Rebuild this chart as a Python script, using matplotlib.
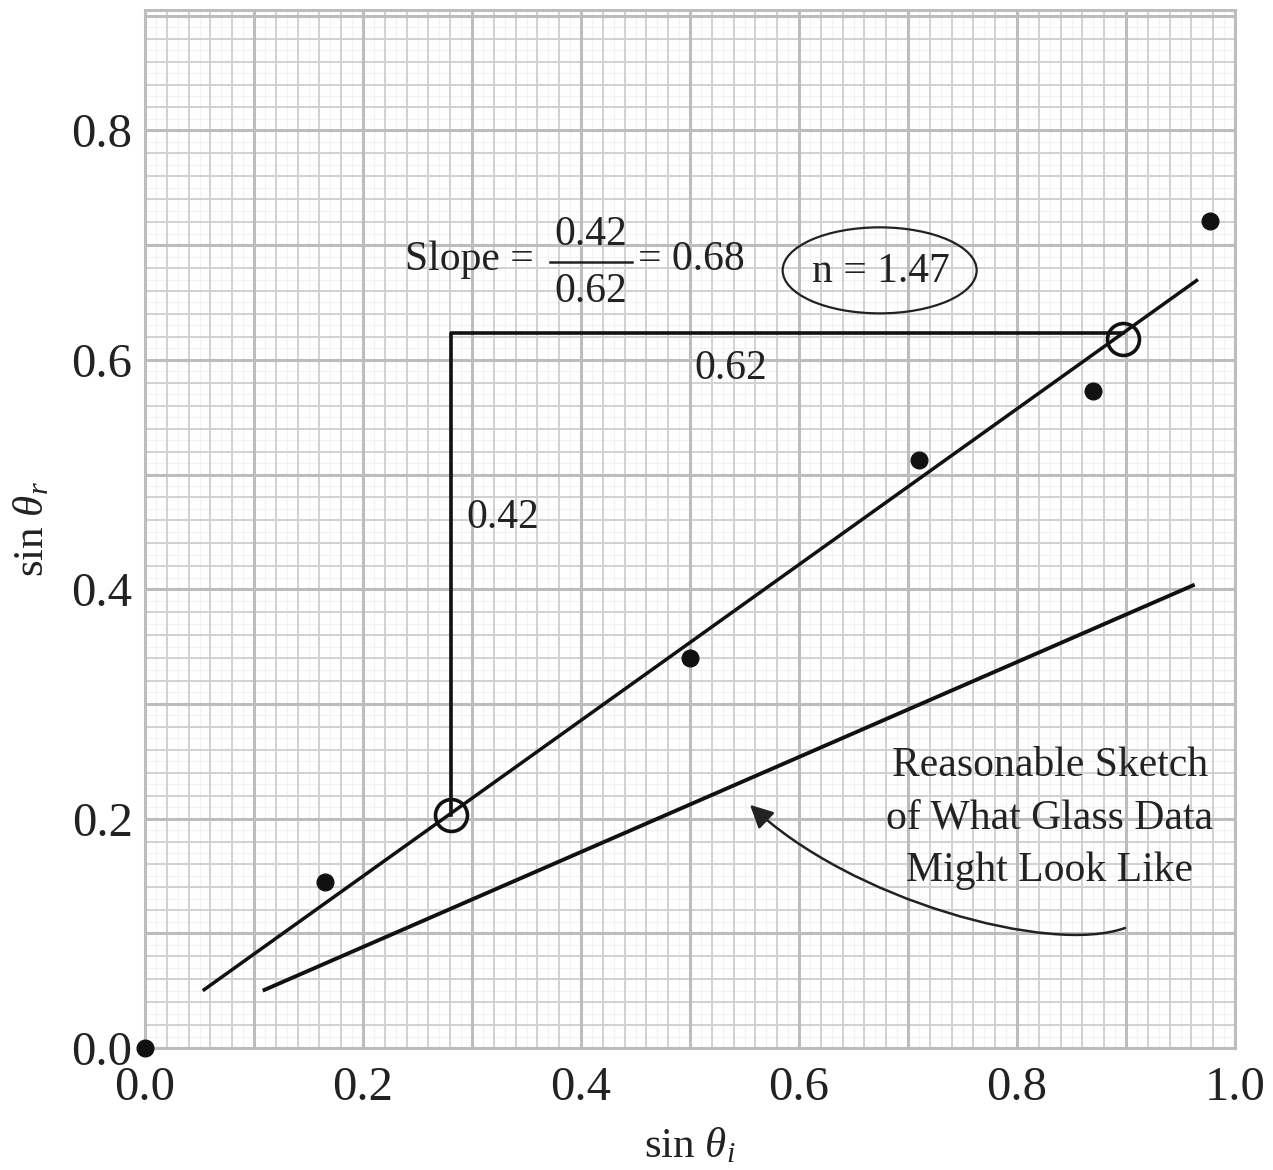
import matplotlib
matplotlib.use("Agg")
import matplotlib.pyplot as plt
import numpy as np
from matplotlib.patches import Ellipse, FancyArrowPatch
from matplotlib.path import Path

# ---- data ----
data_x = [0.0, 0.165, 0.50, 0.71, 0.87, 0.977]
data_y = [0.0, 0.145, 0.34, 0.513, 0.573, 0.721]

fit_x = [0.053, 0.966]
fit_y = [0.050, 0.670]

glass_x = [0.108, 0.963]
glass_y = [0.050, 0.404]

slope_pts_x = [0.281, 0.897]
slope_pts_y = [0.203, 0.618]

tri_x = [0.281, 0.281, 0.897]
tri_y = [0.203, 0.623, 0.623]

xticks = [0.0, 0.2, 0.4, 0.6, 0.8, 1.0]
yticks = [0.0, 0.2, 0.4, 0.6, 0.8]
xtick_labels = ["0.0", "0.2", "0.4", "0.6", "0.8", "1.0"]
ytick_labels = ["0.0", "0.2", "0.4", "0.6", "0.8"]

SERIF = ["Liberation Serif", "DejaVu Serif"]
plt.rcParams["font.family"] = SERIF
plt.rcParams["mathtext.fontset"] = "custom"
plt.rcParams["mathtext.it"] = "Liberation Serif:italic"
plt.rcParams["mathtext.rm"] = "Liberation Serif"

TXT = "#222222"
FS = 30

fig = plt.figure(figsize=(12.73, 11.70), dpi=100)
ax = fig.add_axes([145/1273, 1 - 1048/1170, 1090/1273, 1038/1170])
XMAX, YMAX = 1.0, 0.905
ax.set_xlim(0, XMAX)
ax.set_ylim(0, YMAX)

# graph-paper grid
def grid_lines(step, color, lw):
    for v in np.arange(0, XMAX + 1e-9, step):
        ax.axvline(v, color=color, lw=lw, zorder=0)
    for v in np.arange(0, YMAX + 1e-9, step):
        ax.axhline(v, color=color, lw=lw, zorder=0)

grid_lines(0.01, "#f2f2f2", 0.8)
grid_lines(0.02, "#d2d2d2", 1.4)
grid_lines(0.1, "#bdbdbd", 2.2)

for s in ax.spines.values():
    s.set_color("#bdbdbd")
    s.set_linewidth(2.2)

ax.set_xticks(xticks)
ax.set_xticklabels(xtick_labels)
ax.set_yticks(yticks)
ax.set_yticklabels(ytick_labels)
ax.tick_params(length=0, labelsize=35, colors=TXT)
ax.tick_params(axis="x", pad=13)
ax.tick_params(axis="y", pad=9)

ax.set_xlabel(r"sin $\theta_i$", fontsize=31, color=TXT, labelpad=12)
ax.set_ylabel(r"sin $\theta_r$", fontsize=31, color=TXT, labelpad=14)

# lines
ax.plot(fit_x, fit_y, color="#111111", lw=2.5, zorder=3, solid_capstyle="butt")
ax.plot(glass_x, glass_y, color="#111111", lw=2.8, zorder=3, solid_capstyle="butt")
ax.plot(tri_x, tri_y, color="#111111", lw=2.6, zorder=3)

# data points
ax.plot(data_x, data_y, "o", color="#111111", ms=12, zorder=4, clip_on=False)
# open circles for slope points
ax.plot(slope_pts_x, slope_pts_y, "o", mfc="none", mec="#111111", mew=2.6, ms=23, zorder=5)

# labels
ax.text(0.537, 0.592, "0.62", fontsize=FS, color=TXT, ha="center", va="center")
ax.text(0.328, 0.462, "0.42", fontsize=FS, color=TXT, ha="center", va="center")

ax.text(0.2385, 0.687, "Slope =", fontsize=FS, color=TXT, ha="left", va="center")
ax.text(0.409, 0.709, "0.42", fontsize=FS, color=TXT, ha="center", va="center")
ax.text(0.409, 0.659, "0.62", fontsize=FS, color=TXT, ha="center", va="center")
ax.plot([0.3716, 0.4468], [0.6855, 0.6855], color=TXT, lw=1.8)
ax.text(0.452, 0.687, "= 0.68", fontsize=FS, color=TXT, ha="left", va="center")

ax.text(0.675, 0.677, "n = 1.47", fontsize=FS, color=TXT, ha="center", va="center")
ax.add_patch(Ellipse((0.674, 0.678), 0.178, 0.075, fill=False, ec=TXT, lw=1.6, zorder=3))

ax.text(0.830, 0.2, "Reasonable Sketch\nof What Glass Data\nMight Look Like",
        fontsize=FS, color=TXT, ha="center", va="center", linespacing=1.47)

curve = Path([(0.899, 0.1046), (0.830, 0.081), (0.647, 0.129), (0.555, 0.212)],
             [Path.MOVETO, Path.CURVE4, Path.CURVE4, Path.CURVE4])
arrow = FancyArrowPatch(path=curve,
                        arrowstyle="-|>,head_length=14,head_width=7",
                        color=TXT, lw=1.8, zorder=4)
ax.add_patch(arrow)

fig.savefig("out.png", dpi=100)
